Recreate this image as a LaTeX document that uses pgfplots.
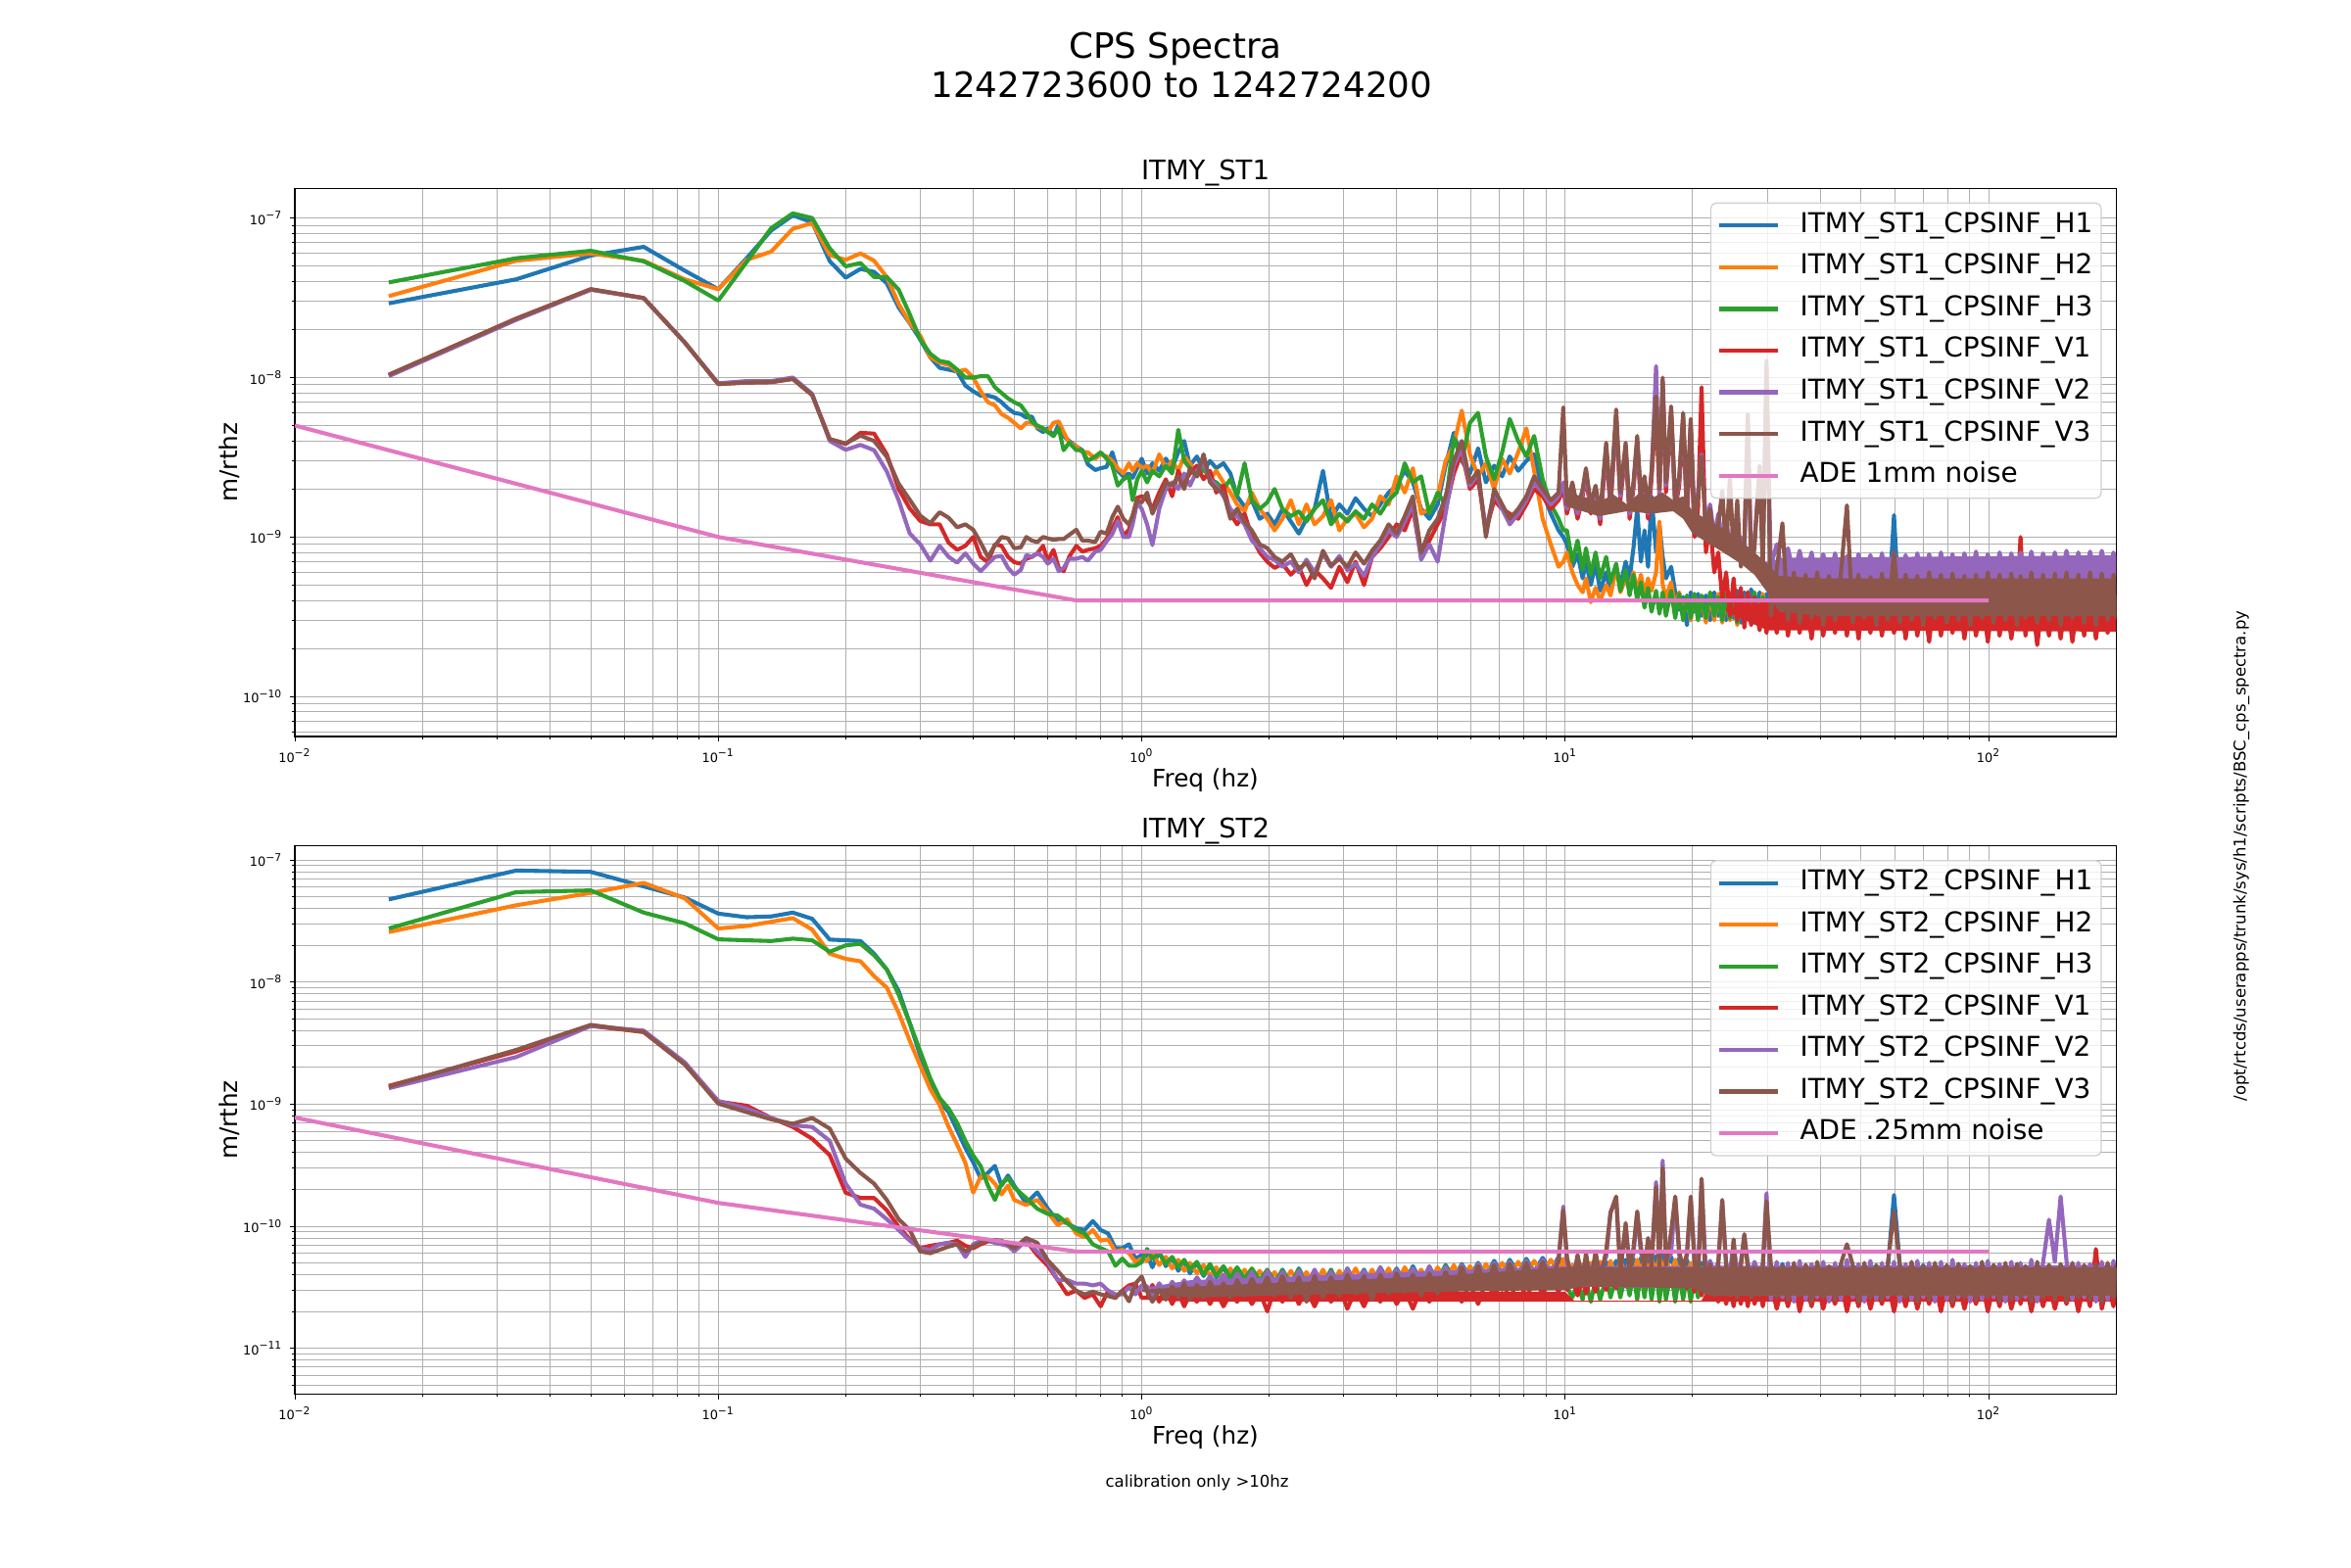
\documentclass[border=0pt]{standalone}
\usepackage{fontspec}
\setmainfont{DejaVu Sans}
\usepackage{pgfplots}
\usepackage{pgfplotstable}
\pgfplotsset{compat=1.18}
\definecolor{C0}{HTML}{1F77B4}
\definecolor{C1}{HTML}{FF7F0E}
\definecolor{C2}{HTML}{2CA02C}
\definecolor{C3}{HTML}{D62728}
\definecolor{C4}{HTML}{9467BD}
\definecolor{C5}{HTML}{8C564B}
\definecolor{C6}{HTML}{E377C2}
\definecolor{gridgray}{HTML}{B0B0B0}
\definecolor{leggray}{HTML}{D0D0D0}

\pgfplotstableread{
f H1 H2 H3 V1 V2 V3
0.01667 2.92e-8 3.24e-8 3.95e-8 1.04e-8 1.02e-8 1.04e-8
0.03333 4.13e-8 5.4e-8 5.6e-8 2.34e-8 2.3e-8 2.34e-8
0.05 5.82e-8 6.0e-8 6.24e-8 3.58e-8 3.55e-8 3.58e-8
0.06667 6.6e-8 5.4e-8 5.35e-8 3.15e-8 3.15e-8 3.15e-8
0.08333 4.68e-8 4.13e-8 4.03e-8 1.66e-8 1.66e-8 1.66e-8
0.1 3.58e-8 3.58e-8 3.04e-8 9.1e-9 9.2e-9 9.1e-9
0.11667 5.6e-8 5.47e-8 5.3e-8 9.3e-9 9.5e-9 9.3e-9
0.13333 8.36e-8 6.16e-8 8.64e-8 9.36e-9 9.5e-9 9.36e-9
0.15 1.04e-7 8.57e-8 1.07e-7 9.8e-9 1.0e-8 9.8e-9
0.16667 9.4e-8 9.3e-8 1.0e-7 7.76e-9 7.9e-9 7.76e-9
0.18333 5.37e-8 5.87e-8 6.46e-8 4.11e-9 4.0e-9 4.11e-9
0.2 4.23e-8 5.47e-8 4.98e-8 3.83e-9 3.52e-9 3.86e-9
0.21667 4.8e-8 6.0e-8 5.22e-8 4.5e-9 3.78e-9 4.32e-9
0.23333 4.6e-8 5.4e-8 4.27e-8 4.45e-9 3.5e-9 4.0e-9
0.25 3.9e-8 4.27e-8 4.27e-8 3.3e-9 2.58e-9 3.18e-9
0.26667 2.75e-8 2.9e-8 3.56e-8 2.0e-9 1.7e-9 2.16e-9
0.28333 2.19e-8 2.2e-8 2.49e-8 1.51e-9 1.05e-9 1.71e-9
0.3 1.73e-8 1.83e-8 1.73e-8 1.26e-9 9.0e-10 1.36e-9
0.31667 1.34e-8 1.34e-8 1.41e-8 1.2e-9 7.1e-10 1.22e-9
0.33333 1.15e-8 1.24e-8 1.27e-8 1.2e-9 8.8e-10 1.43e-9
0.35 1.12e-8 1.2e-8 1.24e-8 9.2e-10 7.5e-10 1.32e-9
0.36667 1.09e-8 1.09e-8 1.12e-8 8.3e-10 6.9e-10 1.15e-9
0.38333 8.9e-9 1.12e-8 1.0e-8 8.8e-10 7.9e-10 1.2e-9
0.4 8.2e-9 1.0e-8 1.0e-8 1.0e-9 6.8e-10 1.11e-9
0.41667 7.7e-9 8.2e-9 1.02e-8 7.5e-10 6.1e-10 9.2e-10
0.43333 7.7e-9 7.0e-9 1.02e-8 6.95e-10 6.8e-10 7.5e-10
0.45 7.5e-9 6.7e-9 8.7e-9 9.0e-10 7.5e-10 8.8e-10
0.46667 7.0e-9 5.9e-9 8.0e-9 8.8e-10 7.6e-10 1.0e-9
0.48333 6.4e-9 5.6e-9 7.4e-9 7.5e-10 6.4e-10 9.8e-10
0.5 6.0e-9 5.2e-9 7.0e-9 6.95e-10 5.8e-10 8.5e-10
0.518 5.9e-9 4.8e-9 6.7e-9 6.8e-10 6.2e-10 8.6e-10
0.534 5.6e-9 5.2e-9 6.0e-9 7.3e-10 7.7e-10 1.0e-9
0.55 5.7e-9 5.2e-9 5.3e-9 7.5e-10 7.5e-10 9.5e-10
0.567 4.8e-9 4.9e-9 5.0e-9 7.9e-10 7.9e-10 9.3e-10
0.585 4.55e-9 4.8e-9 4.8e-9 8.8e-10 7.5e-10 1.0e-9
0.6 4.8e-9 4.55e-9 4.55e-9 7.1e-10 6.8e-10 9.8e-10
0.619 4.3e-9 5.2e-9 4.3e-9 8.3e-10 7.3e-10 9.6e-10
0.637 5.1e-9 5.3e-9 4.8e-9 6.4e-10 6.1e-10 9.7e-10
0.654 4.3e-9 4.55e-9 3.5e-9 6.1e-10 6.4e-10 9.7e-10
0.674 4.0e-9 3.9e-9 3.9e-9 7.5e-10 7.3e-10 1.03e-9
0.701 3.7e-9 3.7e-9 3.5e-9 8.8e-10 7.3e-10 1.11e-9
0.724 3.5e-9 3.4e-9 3.5e-9 8.1e-10 7.5e-10 9.5e-10
0.746 2.86e-9 3.4e-9 3.0e-9 8.3e-10 7.1e-10 9.5e-10
0.777 2.63e-9 3.1e-9 3.2e-9 8.5e-10 8.1e-10 9.3e-10
0.8 2.7e-9 3.3e-9 3.4e-9 8.8e-10 8.3e-10 1.08e-9
0.826 2.75e-9 3.2e-9 3.1e-9 9.7e-10 9.4e-10 1.05e-9
0.852 3.4e-9 3.0e-9 2.8e-9 1.13e-9 1.04e-9 1.33e-9
0.878 2.6e-9 2.7e-9 2.1e-9 1.33e-9 1.26e-9 1.55e-9
0.905 2.4e-9 2.5e-9 2.3e-9 1.02e-9 1.0e-9 1.3e-9
0.933 2.5e-9 2.9e-9 2.4e-9 1.11e-9 1.0e-9 1.2e-9
0.952 2.35e-9 2.6e-9 1.7e-9 1.36e-9 1.2e-9 1.36e-9
0.976 2.7e-9 2.9e-9 2.3e-9 1.76e-9 1.65e-9 1.71e-9
1.0 3.1e-9 2.7e-9 2.6e-9 1.8e-9 1.5e-9 1.65e-9
1.03 2.5e-9 2.8e-9 2.2e-9 1.7e-9 1.2e-9 1.9e-9
1.06 2.9e-9 2.5e-9 2.6e-9 1.5e-9 8.9e-10 1.4e-9
1.1 2.6e-9 3.3e-9 2.4e-9 1.9e-9 1.5e-9 1.75e-9
1.14 3.1e-9 2.7e-9 2.8e-9 2.3e-9 2.0e-9 2.2e-9
1.18 2.7e-9 3.0e-9 2.5e-9 1.8e-9 2.2e-9 2.1e-9
1.22 3.4e-9 2.6e-9 4.7e-9 2.6e-9 2.0e-9 2.4e-9
1.26 4.0e-9 3.2e-9 3.0e-9 2.2e-9 2.5e-9 2.0e-9
1.3 2.8e-9 2.9e-9 2.7e-9 2.5e-9 2.1e-9 2.7e-9
1.35 3.2e-9 2.5e-9 2.4e-9 2.8e-9 2.6e-9 2.4e-9
1.4 2.6e-9 2.8e-9 2.7e-9 2.3e-9 2.9e-9 3.3e-9
1.45 3.0e-9 2.3e-9 2.3e-9 2.6e-9 2.3e-9 2.2e-9
1.5 2.7e-9 2.6e-9 2.2e-9 1.9e-9 2.1e-9 2.0e-9
1.56 2.9e-9 2.2e-9 2.0e-9 2.1e-9 1.8e-9 1.9e-9
1.62 2.5e-9 1.9e-9 2.3e-9 1.4e-9 1.5e-9 1.3e-9
1.68 1.8e-9 1.6e-9 1.8e-9 1.2e-9 1.35e-9 1.5e-9
1.75 1.55e-9 1.45e-9 2.9e-9 1.4e-9 1.2e-9 1.25e-9
1.82 1.7e-9 1.9e-9 1.7e-9 1.0e-9 9.5e-10 1.1e-9
1.9 1.3e-9 1.5e-9 1.5e-9 8.0e-10 8.5e-10 9.0e-10
1.98 1.4e-9 1.3e-9 1.65e-9 7.0e-10 7.5e-10 8.5e-10
2.06 1.2e-9 1.1e-9 2.0e-9 6.4e-10 7.2e-10 7.5e-10
2.15 1.5e-9 1.3e-9 1.5e-9 6.8e-10 6.5e-10 7.0e-10
2.25 1.25e-9 1.7e-9 1.35e-9 5.8e-10 7.0e-10 7.8e-10
2.35 1.05e-9 1.2e-9 1.45e-9 6.5e-10 6.0e-10 6.3e-10
2.45 1.3e-9 1.6e-9 1.25e-9 5.0e-10 7.2e-10 6.9e-10
2.56 1.5e-9 1.2e-9 1.5e-9 6.2e-10 6.0e-10 5.5e-10
2.68 2.6e-9 1.35e-9 1.7e-9 5.5e-10 7.8e-10 8.2e-10
2.8 1.3e-9 1.7e-9 1.2e-9 4.8e-10 6.5e-10 6.6e-10
2.93 1.6e-9 1.1e-9 1.4e-9 6.5e-10 7.6e-10 7.3e-10
3.06 1.4e-9 1.3e-9 1.25e-9 5.2e-10 6.2e-10 6.5e-10
3.2 1.75e-9 1.4e-9 1.45e-9 7.0e-10 6.8e-10 8.0e-10
3.35 1.5e-9 1.15e-9 1.3e-9 5.0e-10 5.7e-10 6.8e-10
3.5 1.35e-9 1.3e-9 1.6e-9 7.5e-10 7.5e-10 8.2e-10
3.66 1.6e-9 1.8e-9 1.4e-9 8.5e-10 9.0e-10 9.5e-10
3.83 1.9e-9 1.6e-9 1.7e-9 1.0e-9 1.1e-9 1.2e-9
4.0 2.1e-9 2.4e-9 1.9e-9 1.2e-9 1.0e-9 1.05e-9
4.18 2.6e-9 1.9e-9 2.9e-9 1.1e-9 1.25e-9 1.35e-9
4.37 2.2e-9 2.7e-9 2.2e-9 1.5e-9 1.6e-9 1.8e-9
4.57 1.5e-9 1.4e-9 2.4e-9 7.5e-10 7.2e-10 8.0e-10
4.78 1.3e-9 1.5e-9 1.4e-9 9.5e-10 9.0e-10 1.1e-9
5.0 1.6e-9 1.8e-9 1.9e-9 1.2e-9 7.0e-10 1.3e-9
5.22 2.8e-9 3.0e-9 1.6e-9 1.5e-9 1.4e-9 1.8e-9
5.46 4.5e-9 3.8e-9 4.2e-9 2.5e-9 2.8e-9 3.0e-9
5.7 3.0e-9 6.2e-9 3.0e-9 3.4e-9 3.6e-9 4.0e-9
5.96 2.5e-9 3.3e-9 5.2e-9 2.0e-9 2.1e-9 2.2e-9
6.23 3.6e-9 2.4e-9 6.0e-9 2.3e-9 2.5e-9 2.6e-9
6.5 2.2e-9 2.9e-9 3.2e-9 1.1e-9 1.1e-9 1.0e-9
6.8 2.8e-9 2.0e-9 2.3e-9 1.7e-9 1.9e-9 2.0e-9
7.1 2.4e-9 3.1e-9 3.4e-9 1.5e-9 1.5e-9 1.6e-9
7.4 3.2e-9 2.5e-9 5.5e-9 1.4e-9 1.2e-9 1.3e-9
7.75 2.6e-9 3.4e-9 4.0e-9 1.3e-9 1.4e-9 1.5e-9
8.1 3.0e-9 4.8e-9 3.2e-9 1.6e-9 1.7e-9 1.8e-9
8.45 3.3e-9 2.6e-9 4.3e-9 2.0e-9 2.2e-9 2.4e-9
8.85 1.9e-9 1.3e-9 2.3e-9 1.8e-9 1.9e-9 2.0e-9
9.25 1.4e-9 9.0e-10 1.6e-9 1.5e-9 1.6e-9 1.7e-9
9.65 1.1e-9 6.5e-10 1.3e-9 1.7e-9 1.8e-9 1.9e-9
9.9 1.0e-9 7.0e-10 1.1e-9 2.0e-9 2.2e-9 6.5e-9
10.1 9.0e-10 8.0e-10 1.1e-9 1.4e-9 1.5e-9 1.6e-9
10.4 6.5e-10 6.0e-10 7.0e-10 1.9e-9 2.0e-9 2.2e-9
10.7 7.8e-10 5.0e-10 9.5e-10 1.3e-9 1.4e-9 1.5e-9
11.0 5.5e-10 4.5e-10 6.2e-10 1.8e-9 1.9e-9 2.0e-9
11.2 7.0e-10 5.5e-10 8.5e-10 2.4e-9 2.5e-9 2.7e-9
11.5 5.0e-10 3.9e-10 5.8e-10 1.4e-9 1.5e-9 1.6e-9
11.8 6.8e-10 4.8e-10 8.0e-10 1.9e-9 2.0e-9 2.1e-9
12.1 4.6e-10 4.0e-10 5.5e-10 1.2e-9 1.3e-9 1.4e-9
12.5 6.0e-10 5.0e-10 7.5e-10 3.4e-9 3.6e-9 3.9e-9
12.8 4.4e-10 4.3e-10 5.2e-10 1.5e-9 1.6e-9 1.7e-9
13.2 6.5e-10 6.5e-10 6.8e-10 5.5e-9 5.8e-9 6.3e-9
13.5 5.0e-10 4.5e-10 4.6e-10 1.7e-9 1.8e-9 1.9e-9
13.9 7.0e-10 5.5e-10 6.2e-10 3.4e-9 3.6e-9 3.9e-9
14.2 5.5e-10 4.8e-10 4.3e-10 1.3e-9 1.4e-9 1.5e-9
14.5 8.5e-10 6.0e-10 5.8e-10 2.0e-9 2.1e-9 2.2e-9
14.8 1.5e-9 4.6e-10 4.0e-10 3.8e-9 4.0e-9 4.3e-9
15.1 7.0e-10 5.8e-10 5.2e-10 1.6e-9 1.7e-9 1.8e-9
15.4 1.1e-9 4.4e-10 3.6e-10 2.1e-9 2.3e-9 2.4e-9
15.7 6.5e-10 5.5e-10 4.8e-10 1.3e-9 1.4e-9 1.5e-9
16.0 1.8e-9 4.6e-10 3.4e-10 2.3e-9 2.5e-9 2.6e-9
16.4 8.0e-10 6.0e-10 4.6e-10 6.8e-9 1.18e-8 7.6e-9
16.7 1.2e-9 1.25e-9 3.3e-10 1.8e-9 1.9e-9 2.0e-9
17.0 7.5e-10 5.0e-10 4.5e-10 9.0e-9 9.5e-9 1.0e-8
17.3 5.5e-10 4.2e-10 3.2e-10 1.9e-9 2.1e-9 2.2e-9
17.8 6.5e-10 5.2e-10 4.6e-10 5.8e-9 6.2e-9 6.6e-9
18.2 4.5e-10 3.6e-10 3.1e-10 1.5e-9 1.6e-9 1.7e-9
18.6 3.5e-10 4.5e-10 4.4e-10 2.1e-9 2.3e-9 2.4e-9
19.0 4.2e-10 3.2e-10 3.0e-10 5.2e-9 5.7e-9 6.0e-9
19.4 2.8e-10 4.2e-10 4.3e-10 1.3e-9 1.5e-9 1.6e-9
19.8 4.5e-10 3.0e-10 3.1e-10 4.8e-9 5.2e-9 5.5e-9
20.2 3.4e-10 4.4e-10 4.4e-10 1.0e-9 1.3e-9 1.2e-9
20.6 4.4e-10 3.1e-10 3.0e-10 1.5e-9 1.9e-9 1.8e-9
21.0 3.2e-10 4.2e-10 4.3e-10 8.7e-9 3.3e-9 3.2e-9
21.5 4.3e-10 2.9e-10 3.1e-10 8.0e-10 1.2e-9 1.1e-9
22.0 3.0e-10 4.3e-10 4.5e-10 1.2e-9 1.6e-9 1.5e-9
22.5 4.5e-10 3.0e-10 3.2e-10 6.0e-10 1.0e-9 9.0e-10
23.0 3.2e-10 4.4e-10 4.2e-10 8.0e-10 1.4e-9 1.2e-9
23.5 4.6e-10 2.9e-10 3.0e-10 4.0e-10 9.5e-10 1.95e-9
24.0 3.0e-10 4.2e-10 4.4e-10 6.0e-10 1.3e-9 8.0e-10
24.5 4.4e-10 3.0e-10 3.1e-10 3.2e-10 8.5e-10 2.4e-9
25.0 3.1e-10 4.4e-10 4.2e-10 5.5e-10 1.2e-9 7.5e-10
25.5 4.6e-10 2.8e-10 2.9e-10 3.0e-10 8.0e-10 1.7e-9
26.0 2.9e-10 4.3e-10 4.4e-10 4.8e-10 1.0e-9 6.5e-10
26.5 4.5e-10 3.0e-10 3.1e-10 2.7e-10 7.5e-10 9.5e-10
27.0 3.2e-10 4.5e-10 4.3e-10 4.5e-10 5.6e-9 5.9e-9
27.5 4.7e-10 2.9e-10 3.0e-10 2.8e-10 7.2e-10 6.2e-10
28.0 3.0e-10 4.2e-10 4.5e-10 4.2e-10 9.5e-10 8.5e-10
28.8 4.5e-10 3.0e-10 3.1e-10 2.6e-10 2.7e-9 2.8e-9
29.3 3.1e-10 4.4e-10 4.2e-10 4.0e-10 7.5e-10 6.0e-10
29.9 4.4e-10 2.9e-10 3.0e-10 2.5e-10 1.2e-8 1.27e-8
30.6 3.0e-10 4.4e-10 3.1e-10 4.2e-10 6.5e-10 3.2e-10
31.6 4.6e-10 2.9e-10 4.5e-10 2.5e-10 9.0e-10 6.2e-10
32.6 2.9e-10 4.3e-10 3.0e-10 4.4e-10 6.0e-10 1.22e-9
33.6 4.5e-10 3.0e-10 4.4e-10 2.4e-10 8.5e-10 3.0e-10
34.7 3.1e-10 4.5e-10 2.9e-10 4.3e-10 5.8e-10 6.0e-10
35.8 4.4e-10 2.9e-10 4.6e-10 2.5e-10 8.2e-10 2.9e-10
37.0 2.9e-10 4.4e-10 3.0e-10 4.2e-10 5.5e-10 5.8e-10
38.2 4.6e-10 3.0e-10 4.4e-10 2.3e-10 8.0e-10 3.1e-10
39.4 3.0e-10 4.6e-10 3.1e-10 4.4e-10 5.4e-10 6.0e-10
40.7 4.5e-10 2.8e-10 4.5e-10 2.4e-10 7.8e-10 2.8e-10
42.0 2.9e-10 4.3e-10 2.9e-10 4.1e-10 5.2e-10 5.7e-10
43.4 4.4e-10 3.0e-10 4.6e-10 2.5e-10 7.9e-10 3.0e-10
44.8 3.0e-10 4.5e-10 3.0e-10 4.3e-10 5.3e-10 5.9e-10
46.3 4.6e-10 2.9e-10 4.4e-10 2.4e-10 7.6e-10 1.58e-9
47.8 2.9e-10 4.4e-10 3.1e-10 4.5e-10 5.1e-10 2.9e-10
49.3 4.5e-10 3.0e-10 4.5e-10 2.3e-10 7.8e-10 5.8e-10
50.9 3.0e-10 4.6e-10 2.9e-10 4.2e-10 5.2e-10 3.1e-10
52.6 4.4e-10 2.9e-10 4.6e-10 2.5e-10 7.7e-10 5.6e-10
54.3 2.9e-10 4.4e-10 3.0e-10 4.4e-10 5.0e-10 2.8e-10
56.0 4.6e-10 3.0e-10 4.4e-10 2.4e-10 7.9e-10 5.9e-10
57.8 3.0e-10 4.5e-10 3.1e-10 4.3e-10 5.2e-10 3.0e-10
59.8 1.37e-9 3.0e-10 4.5e-10 2.5e-10 8.0e-10 8.0e-10
61.7 3.0e-10 4.4e-10 2.9e-10 4.2e-10 5.1e-10 2.9e-10
63.7 4.5e-10 2.9e-10 4.5e-10 2.3e-10 7.7e-10 5.8e-10
65.8 2.9e-10 4.6e-10 3.0e-10 4.4e-10 5.3e-10 3.0e-10
67.9 4.6e-10 3.0e-10 4.4e-10 2.4e-10 7.9e-10 5.7e-10
70.1 3.0e-10 4.4e-10 3.1e-10 4.3e-10 5.0e-10 2.8e-10
72.4 4.4e-10 2.9e-10 4.6e-10 2.2e-10 7.8e-10 6.0e-10
74.7 2.9e-10 4.5e-10 2.9e-10 4.5e-10 5.2e-10 3.1e-10
77.2 4.5e-10 3.0e-10 4.5e-10 2.4e-10 8.0e-10 5.8e-10
79.7 3.0e-10 4.6e-10 3.0e-10 4.2e-10 5.3e-10 2.9e-10
82.2 4.6e-10 2.9e-10 4.4e-10 2.5e-10 7.8e-10 5.9e-10
84.9 2.9e-10 4.4e-10 3.1e-10 4.4e-10 5.1e-10 3.0e-10
87.7 4.5e-10 3.0e-10 4.6e-10 2.3e-10 7.9e-10 5.7e-10
90.5 3.0e-10 4.5e-10 2.9e-10 4.3e-10 5.2e-10 2.8e-10
93.4 4.4e-10 2.9e-10 4.5e-10 2.4e-10 8.1e-10 5.8e-10
96.5 2.9e-10 4.6e-10 3.0e-10 4.2e-10 5.3e-10 3.1e-10
99.6 4.6e-10 3.0e-10 4.4e-10 2.2e-10 7.8e-10 6.0e-10
102.8 3.0e-10 4.4e-10 3.1e-10 4.5e-10 5.2e-10 2.9e-10
106.2 4.5e-10 2.9e-10 4.6e-10 2.4e-10 8.0e-10 5.8e-10
109.6 2.9e-10 4.5e-10 2.9e-10 4.3e-10 5.4e-10 3.0e-10
113.2 4.6e-10 3.0e-10 4.5e-10 2.3e-10 7.9e-10 5.9e-10
116.8 3.0e-10 4.6e-10 3.0e-10 4.2e-10 5.3e-10 2.8e-10
119.0 4.4e-10 2.9e-10 4.4e-10 1.0e-9 8.0e-10 5.7e-10
122.2 2.9e-10 4.4e-10 3.1e-10 2.4e-10 5.2e-10 3.1e-10
126.2 4.5e-10 3.0e-10 4.6e-10 4.4e-10 8.1e-10 6.0e-10
130.3 3.0e-10 4.5e-10 2.9e-10 2.1e-10 5.4e-10 2.9e-10
134.5 4.6e-10 2.9e-10 4.5e-10 4.3e-10 7.9e-10 5.8e-10
138.9 2.9e-10 4.6e-10 3.0e-10 2.4e-10 5.3e-10 3.0e-10
143.4 4.4e-10 3.0e-10 4.4e-10 4.2e-10 8.0e-10 5.9e-10
148.0 3.0e-10 4.4e-10 3.1e-10 2.3e-10 5.5e-10 2.8e-10
152.8 4.5e-10 2.9e-10 4.6e-10 4.4e-10 8.2e-10 6.0e-10
157.8 2.9e-10 4.5e-10 2.9e-10 2.2e-10 5.4e-10 3.1e-10
162.9 4.6e-10 3.0e-10 4.5e-10 4.3e-10 8.0e-10 5.8e-10
168.2 3.0e-10 4.6e-10 3.0e-10 2.4e-10 5.6e-10 2.9e-10
173.7 4.4e-10 2.9e-10 4.4e-10 4.5e-10 8.1e-10 6.0e-10
179.3 2.9e-10 4.4e-10 3.1e-10 2.3e-10 5.5e-10 2.8e-10
185.1 4.5e-10 3.0e-10 4.6e-10 4.2e-10 8.2e-10 5.9e-10
191.1 3.0e-10 4.5e-10 2.9e-10 2.5e-10 5.6e-10 3.0e-10
197.3 4.6e-10 2.9e-10 4.5e-10 4.3e-10 8.0e-10 5.8e-10
200.0 3.0e-10 4.4e-10 3.0e-10 2.6e-10 5.7e-10 3.1e-10
}\toptab

\pgfplotstableread{
f H1 H2 H3 V1 V2 V3
0.01667 4.76e-8 2.57e-8 2.75e-8 1.41e-9 1.35e-9 1.39e-9
0.03333 8.2e-8 4.26e-8 5.46e-8 2.7e-9 2.43e-9 2.78e-9
0.05 8.0e-8 5.38e-8 5.64e-8 4.37e-9 4.37e-9 4.46e-9
0.06667 6.08e-8 6.5e-8 3.71e-8 3.9e-9 4.0e-9 3.9e-9
0.08333 4.93e-8 4.86e-8 3.03e-8 2.12e-9 2.2e-9 2.12e-9
0.1 3.64e-8 2.75e-8 2.24e-8 1.05e-9 1.06e-9 1.01e-9
0.11667 3.4e-8 2.88e-8 2.2e-8 9.7e-10 9.2e-10 8.6e-10
0.13333 3.45e-8 3.12e-8 2.17e-8 7.7e-10 7.7e-10 7.5e-10
0.15 3.71e-8 3.34e-8 2.27e-8 6.5e-10 6.7e-10 6.9e-10
0.16667 3.3e-8 2.69e-8 2.2e-8 5.2e-10 6.5e-10 7.7e-10
0.18333 2.23e-8 1.71e-8 1.77e-8 3.82e-10 5.0e-10 6.3e-10
0.2 2.2e-8 1.55e-8 2.0e-8 1.88e-10 2.23e-10 3.57e-10
0.21667 2.17e-8 1.48e-8 2.06e-8 1.7e-10 1.5e-10 2.73e-10
0.23333 1.71e-8 1.12e-8 1.66e-8 1.7e-10 1.39e-10 2.23e-10
0.25 1.27e-8 9.0e-9 1.27e-8 1.35e-10 1.14e-10 1.64e-10
0.26667 8.45e-9 5.6e-9 7.9e-9 9.9e-11 9.3e-11 1.14e-10
0.28333 4.6e-9 3.3e-9 4.6e-9 7.8e-11 7.6e-11 9.3e-11
0.3 2.5e-9 2.06e-9 2.7e-9 6.6e-11 6.6e-11 6.2e-11
0.31667 1.47e-9 1.33e-9 1.63e-9 6.9e-11 6.4e-11 6.0e-11
0.33333 1.05e-9 9.8e-10 1.12e-9 7.1e-11 7.1e-11 6.4e-11
0.35 8.6e-10 6.5e-10 9.2e-10 7.3e-11 7.3e-11 6.8e-11
0.36667 6.1e-10 4.65e-10 7.0e-10 7.6e-11 7.1e-11 7.1e-11
0.38333 4.37e-10 3.3e-10 5.0e-10 6.9e-11 5.6e-11 6.2e-11
0.4 3.33e-10 1.88e-10 3.8e-10 6.6e-11 7.1e-11 6.8e-11
0.41667 2.46e-10 2.55e-10 3.1e-10 7.1e-11 7.6e-11 7.3e-11
0.43333 2.73e-10 2.55e-10 2.15e-10 7.5e-11 7.6e-11 7.6e-11
0.45 3.12e-10 2.23e-10 1.64e-10 7.6e-11 7.3e-11 7.7e-11
0.46667 2.15e-10 1.82e-10 2.23e-10 7.3e-11 7.1e-11 7.6e-11
0.48333 2.6e-10 2.15e-10 2.47e-10 7.1e-11 6.9e-11 7.1e-11
0.5 2.15e-10 1.64e-10 2.08e-10 6.6e-11 6.2e-11 6.6e-11
0.53333 1.54e-10 1.49e-10 1.7e-10 7.6e-11 7.6e-11 8.0e-11
0.56667 1.89e-10 1.64e-10 1.39e-10 5.8e-11 6.2e-11 7.3e-11
0.6 1.39e-10 1.3e-10 1.26e-10 4.74e-11 5.07e-11 5.25e-11
0.63333 1.1e-10 1.02e-10 1.22e-10 3.62e-11 3.62e-11 4.3e-11
0.66667 1.06e-10 1.14e-10 1.06e-10 2.76e-11 3.62e-11 3.5e-11
0.7 9.6e-11 8.7e-11 9.3e-11 2.96e-11 3.38e-11 2.96e-11
0.73333 9.3e-11 8.1e-11 8.7e-11 2.58e-11 3.38e-11 2.76e-11
0.76667 1.1e-10 9.3e-11 7.1e-11 2.76e-11 3.27e-11 2.9e-11
0.8 9.3e-11 7.6e-11 6.6e-11 2.2e-11 3.38e-11 2.76e-11
0.83333 8.7e-11 7.8e-11 6.2e-11 2.96e-11 2.96e-11 2.67e-11
0.86667 6.6e-11 6.2e-11 4.74e-11 2.58e-11 2.76e-11 2.58e-11
0.9 6.6e-11 6.4e-11 5.42e-11 2.96e-11 2.76e-11 2.96e-11
0.93333 7.1e-11 6.0e-11 4.74e-11 3.27e-11 3.16e-11 2.42e-11
0.96667 5.4e-11 5.07e-11 4.74e-11 3.38e-11 2.76e-11 3.38e-11
1.0 5.8e-11 5.42e-11 5.07e-11 2.58e-11 3.27e-11 3.87e-11
1.03 5.8e-11 5.2e-11 6.5e-11 2.6e-11 3.2e-11 2.9e-11
1.06 4.6e-11 6.0e-11 5.4e-11 3.3e-11 2.7e-11 2.4e-11
1.1 6.2e-11 4.8e-11 6.0e-11 2.4e-11 3.4e-11 3.0e-11
1.14 4.7e-11 5.6e-11 4.9e-11 3.1e-11 2.8e-11 2.5e-11
1.18 5.5e-11 4.5e-11 5.6e-11 2.3e-11 3.5e-11 3.2e-11
1.22 4.3e-11 5.3e-11 4.6e-11 2.9e-11 3.0e-11 2.6e-11
1.26 5.2e-11 4.3e-11 5.3e-11 2.2e-11 3.6e-11 3.4e-11
1.3 4.1e-11 5.0e-11 4.4e-11 2.8e-11 3.1e-11 2.5e-11
1.35 5.0e-11 4.1e-11 5.1e-11 2.4e-11 3.8e-11 3.3e-11
1.4 3.9e-11 4.8e-11 4.0e-11 3.0e-11 3.2e-11 2.6e-11
1.45 4.8e-11 3.9e-11 4.9e-11 2.3e-11 3.9e-11 3.5e-11
1.5 3.8e-11 4.6e-11 3.9e-11 2.9e-11 3.3e-11 2.7e-11
1.56 4.6e-11 3.7e-11 4.7e-11 2.2e-11 4.0e-11 3.4e-11
1.62 3.6e-11 4.5e-11 3.8e-11 2.8e-11 3.2e-11 2.6e-11
1.68 4.5e-11 3.6e-11 4.6e-11 2.4e-11 4.1e-11 3.6e-11
1.75 3.5e-11 4.4e-11 3.7e-11 3.0e-11 3.3e-11 2.7e-11
1.82 4.4e-11 3.5e-11 4.5e-11 2.3e-11 4.2e-11 3.7e-11
1.9 3.4e-11 4.3e-11 3.6e-11 2.9e-11 3.1e-11 2.8e-11
1.98 4.3e-11 3.4e-11 4.4e-11 2.0e-11 4.3e-11 3.8e-11
2.06 3.4e-11 4.2e-11 3.5e-11 3.1e-11 3.2e-11 2.7e-11
2.15 4.4e-11 3.3e-11 4.3e-11 2.4e-11 4.2e-11 3.9e-11
2.25 3.3e-11 4.3e-11 3.4e-11 3.2e-11 3.0e-11 2.6e-11
2.35 4.5e-11 3.4e-11 4.4e-11 2.3e-11 4.3e-11 3.8e-11
2.45 3.4e-11 4.2e-11 3.3e-11 3.0e-11 3.1e-11 2.4e-11
2.56 4.3e-11 3.3e-11 4.2e-11 2.2e-11 4.4e-11 3.9e-11
2.68 3.3e-11 4.4e-11 3.4e-11 3.1e-11 3.2e-11 2.6e-11
2.8 4.4e-11 3.2e-11 4.3e-11 2.4e-11 4.2e-11 3.8e-11
2.93 3.2e-11 4.3e-11 3.3e-11 3.2e-11 3.0e-11 2.7e-11
3.06 4.5e-11 3.4e-11 4.4e-11 2.1e-11 4.5e-11 4.0e-11
3.2 3.4e-11 4.5e-11 3.3e-11 3.0e-11 3.1e-11 2.8e-11
3.35 4.4e-11 3.3e-11 4.3e-11 2.2e-11 4.3e-11 3.9e-11
3.5 3.3e-11 4.4e-11 3.4e-11 3.1e-11 3.2e-11 2.5e-11
3.66 4.6e-11 3.4e-11 4.5e-11 2.4e-11 4.6e-11 4.0e-11
3.83 3.5e-11 4.5e-11 3.3e-11 3.2e-11 3.1e-11 2.8e-11
4.0 4.5e-11 3.3e-11 4.4e-11 2.3e-11 4.4e-11 4.1e-11
4.18 3.4e-11 4.6e-11 3.5e-11 3.0e-11 3.2e-11 2.9e-11
4.37 4.7e-11 3.5e-11 4.5e-11 2.1e-11 4.5e-11 4.0e-11
4.57 3.5e-11 4.4e-11 3.4e-11 3.1e-11 3.3e-11 2.7e-11
4.78 4.6e-11 3.4e-11 4.6e-11 2.4e-11 4.7e-11 4.1e-11
5.0 3.6e-11 4.6e-11 3.5e-11 3.3e-11 3.2e-11 2.8e-11
5.22 4.8e-11 3.6e-11 4.7e-11 2.5e-11 4.6e-11 4.2e-11
5.46 3.7e-11 4.8e-11 3.6e-11 3.2e-11 3.4e-11 3.0e-11
5.7 4.9e-11 3.5e-11 4.8e-11 2.4e-11 4.8e-11 4.6e-11
5.96 3.8e-11 4.7e-11 3.7e-11 3.4e-11 3.5e-11 3.1e-11
6.23 5.0e-11 3.7e-11 4.9e-11 2.3e-11 4.9e-11 4.7e-11
6.5 3.9e-11 4.9e-11 3.8e-11 3.5e-11 3.6e-11 3.2e-11
6.8 5.2e-11 3.8e-11 5.0e-11 2.7e-11 5.0e-11 4.8e-11
7.1 4.0e-11 5.0e-11 3.9e-11 3.6e-11 3.7e-11 3.0e-11
7.4 5.3e-11 3.9e-11 5.1e-11 2.5e-11 5.1e-11 4.9e-11
7.75 4.1e-11 5.1e-11 4.0e-11 3.7e-11 3.8e-11 3.4e-11
8.1 5.4e-11 4.0e-11 5.2e-11 2.6e-11 5.2e-11 5.0e-11
8.45 4.2e-11 5.2e-11 4.1e-11 3.6e-11 3.9e-11 3.2e-11
8.85 5.5e-11 4.1e-11 5.0e-11 2.8e-11 5.3e-11 5.1e-11
9.25 4.3e-11 5.3e-11 4.0e-11 3.7e-11 4.0e-11 3.6e-11
9.65 5.6e-11 4.2e-11 4.5e-11 2.9e-11 5.4e-11 5.2e-11
9.9 4.4e-11 5.4e-11 3.8e-11 3.8e-11 1.45e-10 1.35e-10
10.1 4.6e-11 3.6e-11 3.2e-11 3.0e-11 5.0e-11 5.6e-11
10.4 3.5e-11 4.8e-11 2.6e-11 3.8e-11 4.0e-11 3.4e-11
10.7 4.8e-11 3.4e-11 3.4e-11 2.7e-11 5.2e-11 5.8e-11
11.0 3.6e-11 4.9e-11 2.5e-11 3.7e-11 4.1e-11 3.6e-11
11.2 4.9e-11 3.5e-11 3.5e-11 2.8e-11 5.4e-11 6.0e-11
11.5 3.7e-11 5.0e-11 2.4e-11 3.8e-11 4.2e-11 3.5e-11
11.8 5.0e-11 3.6e-11 3.6e-11 2.9e-11 5.5e-11 6.2e-11
12.1 3.8e-11 5.1e-11 2.5e-11 3.9e-11 4.3e-11 3.7e-11
12.5 5.1e-11 3.7e-11 3.8e-11 3.0e-11 5.6e-11 6.3e-11
12.8 4.0e-11 5.2e-11 2.6e-11 4.0e-11 1.3e-10 1.28e-10
13.2 5.2e-11 3.8e-11 3.9e-11 3.1e-11 1.7e-10 1.75e-10
13.5 4.1e-11 5.3e-11 2.6e-11 4.1e-11 4.6e-11 4.0e-11
13.9 5.3e-11 3.9e-11 4.0e-11 3.2e-11 1.0e-10 1.06e-10
14.2 4.2e-11 5.2e-11 2.7e-11 4.2e-11 4.7e-11 4.2e-11
14.5 5.4e-11 4.0e-11 4.1e-11 3.3e-11 5.9e-11 6.6e-11
14.8 4.3e-11 5.3e-11 2.5e-11 4.3e-11 1.3e-10 1.32e-10
15.1 5.5e-11 4.1e-11 4.2e-11 3.4e-11 6.0e-11 6.8e-11
15.4 4.2e-11 5.4e-11 2.6e-11 4.4e-11 4.9e-11 4.5e-11
15.7 5.6e-11 4.0e-11 4.4e-11 3.5e-11 6.2e-11 8.0e-11
16.0 4.3e-11 5.5e-11 2.5e-11 4.5e-11 5.0e-11 4.6e-11
16.4 5.7e-11 4.1e-11 4.5e-11 3.6e-11 2.3e-10 2.1e-10
16.7 4.4e-11 5.6e-11 2.4e-11 4.6e-11 5.2e-11 4.7e-11
17.0 5.8e-11 4.2e-11 4.3e-11 3.7e-11 3.45e-10 3.0e-10
17.3 4.5e-11 5.5e-11 2.5e-11 4.4e-11 5.1e-11 4.8e-11
17.8 5.6e-11 4.0e-11 4.2e-11 3.5e-11 6.0e-11 9.0e-11
18.2 4.3e-11 5.3e-11 2.4e-11 4.3e-11 1.7e-10 1.75e-10
18.6 5.5e-11 3.9e-11 4.0e-11 3.3e-11 5.8e-11 6.2e-11
19.0 4.2e-11 5.2e-11 2.5e-11 4.2e-11 4.8e-11 4.4e-11
19.4 5.3e-11 3.8e-11 3.9e-11 3.1e-11 5.7e-11 6.0e-11
19.8 4.1e-11 5.0e-11 2.4e-11 4.0e-11 1.7e-10 1.75e-10
20.2 5.1e-11 3.6e-11 3.8e-11 2.9e-11 5.5e-11 5.2e-11
20.6 3.9e-11 4.8e-11 2.6e-11 3.8e-11 4.5e-11 3.2e-11
21.0 5.0e-11 3.5e-11 4.6e-11 2.7e-11 2.4e-10 2.45e-10
21.5 3.6e-11 4.7e-11 3.2e-11 3.6e-11 4.3e-11 2.8e-11
22.0 4.9e-11 3.4e-11 4.7e-11 2.5e-11 5.2e-11 4.9e-11
22.5 3.5e-11 4.6e-11 3.1e-11 3.5e-11 4.2e-11 2.7e-11
23.0 4.8e-11 3.3e-11 4.8e-11 2.4e-11 5.1e-11 4.8e-11
23.5 3.4e-11 4.5e-11 3.0e-11 3.4e-11 1.6e-10 1.64e-10
24.0 4.7e-11 3.2e-11 4.6e-11 2.3e-11 5.0e-11 4.7e-11
24.5 3.4e-11 4.4e-11 3.1e-11 3.3e-11 4.1e-11 2.7e-11
25.0 4.8e-11 3.3e-11 4.7e-11 2.2e-11 7.5e-11 7.8e-11
25.5 3.3e-11 4.5e-11 3.0e-11 3.4e-11 4.0e-11 2.6e-11
26.0 4.6e-11 3.2e-11 4.6e-11 2.3e-11 5.1e-11 4.6e-11
26.5 3.4e-11 4.4e-11 3.1e-11 3.3e-11 8.4e-11 8.6e-11
27.0 4.7e-11 3.3e-11 4.5e-11 2.2e-11 5.0e-11 4.5e-11
27.5 3.3e-11 4.5e-11 3.0e-11 3.4e-11 4.1e-11 2.6e-11
28.0 4.6e-11 3.2e-11 4.6e-11 2.3e-11 5.1e-11 4.6e-11
28.8 3.4e-11 4.4e-11 3.1e-11 3.2e-11 4.0e-11 2.7e-11
29.3 4.7e-11 3.3e-11 4.5e-11 2.2e-11 5.0e-11 4.5e-11
29.9 3.3e-11 4.5e-11 3.0e-11 3.4e-11 1.86e-10 1.6e-10
30.6 4.7e-11 3.2e-11 4.6e-11 3.4e-11 2.5e-11 4.9e-11
31.6 3.3e-11 4.6e-11 3.1e-11 2.1e-11 5.1e-11 2.6e-11
32.6 4.9e-11 3.1e-11 4.4e-11 3.2e-11 2.6e-11 4.7e-11
33.6 3.2e-11 4.5e-11 3.3e-11 2.2e-11 5.0e-11 2.5e-11
34.7 4.6e-11 3.3e-11 4.7e-11 3.5e-11 2.4e-11 5.0e-11
35.8 3.4e-11 4.7e-11 3.0e-11 2.0e-11 5.2e-11 2.7e-11
37.0 4.8e-11 3.0e-11 4.5e-11 3.3e-11 2.5e-11 4.8e-11
38.2 3.1e-11 4.4e-11 3.2e-11 2.2e-11 4.9e-11 2.4e-11
39.4 4.7e-11 3.2e-11 4.8e-11 3.4e-11 2.6e-11 5.1e-11
40.7 3.3e-11 4.6e-11 3.1e-11 2.1e-11 5.1e-11 2.6e-11
42.0 4.5e-11 3.1e-11 4.6e-11 3.2e-11 2.4e-11 4.7e-11
43.4 3.2e-11 4.8e-11 3.3e-11 2.3e-11 5.0e-11 2.5e-11
44.8 4.9e-11 3.3e-11 4.4e-11 3.5e-11 2.5e-11 4.9e-11
46.3 3.4e-11 4.5e-11 3.0e-11 2.0e-11 5.3e-11 7.1e-11
47.8 4.6e-11 3.0e-11 4.7e-11 3.3e-11 2.6e-11 4.8e-11
49.3 3.1e-11 4.7e-11 3.2e-11 2.2e-11 4.9e-11 2.4e-11
50.9 4.8e-11 3.2e-11 4.5e-11 3.4e-11 2.4e-11 5.0e-11
52.6 3.3e-11 4.4e-11 3.1e-11 2.1e-11 5.2e-11 2.6e-11
54.3 4.7e-11 3.1e-11 4.8e-11 3.2e-11 2.5e-11 4.7e-11
56.0 3.2e-11 4.6e-11 3.3e-11 2.3e-11 5.0e-11 2.5e-11
57.8 4.5e-11 3.3e-11 4.6e-11 3.5e-11 2.6e-11 4.9e-11
59.8 1.8e-10 4.8e-11 3.0e-11 2.0e-11 5.1e-11 1.32e-10
61.7 4.9e-11 3.0e-11 4.4e-11 3.3e-11 2.4e-11 4.8e-11
63.7 3.4e-11 4.5e-11 3.2e-11 2.2e-11 4.9e-11 2.6e-11
65.8 4.6e-11 3.2e-11 4.7e-11 3.4e-11 2.5e-11 5.1e-11
67.9 3.1e-11 4.7e-11 3.1e-11 2.1e-11 5.2e-11 2.4e-11
70.1 4.8e-11 3.1e-11 4.5e-11 3.2e-11 2.6e-11 4.7e-11
72.4 3.3e-11 4.4e-11 3.3e-11 2.3e-11 5.0e-11 2.5e-11
74.7 4.7e-11 3.3e-11 4.8e-11 3.5e-11 2.4e-11 5.0e-11
77.2 3.2e-11 4.6e-11 3.0e-11 2.0e-11 5.1e-11 2.7e-11
79.7 4.5e-11 3.0e-11 4.6e-11 3.3e-11 2.5e-11 4.8e-11
82.2 3.4e-11 4.8e-11 3.2e-11 2.2e-11 5.3e-11 2.4e-11
84.9 4.9e-11 3.2e-11 4.4e-11 3.4e-11 2.6e-11 4.9e-11
87.7 3.1e-11 4.5e-11 3.1e-11 2.1e-11 4.9e-11 2.6e-11
90.5 4.6e-11 3.1e-11 4.7e-11 3.2e-11 2.4e-11 4.7e-11
93.4 3.3e-11 4.7e-11 3.3e-11 2.3e-11 5.0e-11 2.5e-11
96.5 4.8e-11 3.3e-11 4.5e-11 3.5e-11 2.5e-11 5.1e-11
99.6 3.2e-11 4.4e-11 3.0e-11 2.0e-11 5.2e-11 2.6e-11
102.8 4.7e-11 3.0e-11 4.8e-11 3.3e-11 2.6e-11 4.8e-11
106.2 3.4e-11 4.6e-11 3.2e-11 2.2e-11 4.9e-11 2.4e-11
109.6 4.5e-11 3.2e-11 4.6e-11 3.4e-11 2.4e-11 5.0e-11
113.2 3.1e-11 4.8e-11 3.1e-11 2.1e-11 5.1e-11 2.5e-11
116.8 4.9e-11 3.1e-11 4.4e-11 3.2e-11 2.5e-11 4.9e-11
119.0 3.3e-11 4.5e-11 3.3e-11 2.3e-11 5.0e-11 2.6e-11
122.2 4.6e-11 3.3e-11 4.7e-11 3.5e-11 2.6e-11 4.7e-11
126.2 3.2e-11 4.7e-11 3.0e-11 2.0e-11 5.3e-11 2.4e-11
130.3 4.8e-11 3.0e-11 4.5e-11 3.3e-11 2.4e-11 5.1e-11
134.5 3.4e-11 4.4e-11 3.2e-11 2.2e-11 5.0e-11 2.6e-11
138.9 4.7e-11 3.2e-11 4.8e-11 3.4e-11 1.13e-10 4.8e-11
143.4 3.1e-11 4.6e-11 3.1e-11 2.1e-11 5.1e-11 2.5e-11
148.0 4.5e-11 3.1e-11 4.6e-11 3.2e-11 1.75e-10 4.9e-11
152.8 3.3e-11 4.8e-11 3.3e-11 2.3e-11 5.2e-11 2.4e-11
157.8 4.9e-11 3.3e-11 4.4e-11 3.5e-11 2.5e-11 5.0e-11
162.9 3.2e-11 4.5e-11 3.0e-11 2.0e-11 5.0e-11 2.6e-11
168.2 4.6e-11 3.0e-11 4.7e-11 3.3e-11 2.6e-11 4.8e-11
173.7 3.4e-11 4.7e-11 3.2e-11 2.2e-11 4.9e-11 2.5e-11
179.3 4.8e-11 3.2e-11 4.5e-11 6.5e-11 2.4e-11 4.9e-11
185.1 3.1e-11 4.4e-11 3.1e-11 2.1e-11 5.1e-11 2.4e-11
191.1 4.7e-11 3.1e-11 4.8e-11 3.4e-11 2.5e-11 5.0e-11
197.3 3.3e-11 4.6e-11 3.3e-11 2.2e-11 5.2e-11 2.6e-11
200.0 4.6e-11 3.3e-11 4.6e-11 3.3e-11 2.6e-11 4.8e-11
}\bottab

\pgfplotstableread{
f a
0.01 5.0e-9
0.1 1.0e-9
0.7 4.0e-10
100 4.0e-10
}\topade

\pgfplotstableread{
f a
0.01 7.75e-10
0.1 1.55e-10
0.7 6.2e-11
100 6.2e-11
}\botade

\begin{document}
\begin{tikzpicture}
\path (0,0) rectangle (1117.44pt,744.96pt);

\node[font=\fontsize{16.6}{19}\selectfont, anchor=base] at (558.7pt,717.4pt) {CPS Spectra};
\node[font=\fontsize{16.6}{19}\selectfont, anchor=base] at (561.7pt,698.7pt) {1242723600 to 1242724200};

\begin{axis}[at={(140.15pt,394.8pt)}, anchor=south west,
    xmode=log, ymode=log,
    scale only axis, width=865.6pt, height=260.7pt,
    xmin=0.01, xmax=200, ymin=5.6e-11, ymax=1.54e-7,
    grid=both,
    major grid style={line width=0.4pt, draw=gridgray},
    minor grid style={line width=0.4pt, draw=gridgray},
    axis line style={line width=0.55pt, black},
    tick align=outside, tick pos=left,
    major tick length=2.4pt, minor tick length=1.4pt,
    tick style={line width=0.4pt, black},
    tick label style={font=\fontsize{6}{7}\selectfont},
    log number format basis/.code 2 args={\pgfmathtruncatemacro\myexp{#2}#1\textsuperscript{\ifnum\myexp<0 −\number-\myexp\else\myexp\fi}},
    label style={font=\fontsize{11.5}{13}\selectfont},
    every axis title/.style={font=\fontsize{12.8}{15}\selectfont, at={(0.5,1)}, anchor=base, yshift=3.8pt},
    title={ITMY\_ST1},
    xlabel={Freq (hz)}, ylabel={m/rthz},
    x label style={at={(axis description cs:0.5,-0.079)}, anchor=center},
    y label style={at={(axis description cs:-0.036,0.5)}, anchor=center},
    legend cell align=left,
    legend image code/.code={\draw[#1] (0pt,0pt) -- (28pt,0pt);},
    legend style={at={(0.9922,0.974)}, anchor=north east,
      font=\fontsize{13}{15}\selectfont,
      draw=leggray, line width=0.6pt, rounded corners=2.5pt,
      fill=white, fill opacity=0.8, text opacity=1, draw opacity=1,
      inner xsep=3pt, inner ysep=3.5pt, row sep=5.3pt,
      nodes={inner sep=1pt, text height=9.5pt, text depth=3pt},
      /tikz/every odd column/.append style={column sep=8.5pt}},
    every axis plot/.append style={line width=1.9pt, line join=round},
  ]
\addplot[C0] table[x=f, y=H1] {\toptab};
\addlegendentry{ITMY\_ST1\_CPSINF\_H1}
\addplot[C1] table[x=f, y=H2] {\toptab};
\addlegendentry{ITMY\_ST1\_CPSINF\_H2}
\addplot[C2] table[x=f, y=H3] {\toptab};
\addlegendentry{ITMY\_ST1\_CPSINF\_H3}
\addplot[fill=C3, draw=none, forget plot] coordinates {(24,3.6e-10) (30,3.9e-10) (200,4.0e-10) (200,2.55e-10) (30,2.6e-10) (24,3.4e-10)} -- cycle;
\addplot[C3] table[x=f, y=V1] {\toptab};
\addlegendentry{ITMY\_ST1\_CPSINF\_V1}
\addplot[fill=C4, draw=none, forget plot] coordinates {(27,6.6e-10) (33,7.4e-10) (60,7.5e-10) (120,7.6e-10) (200,7.7e-10) (200,5.4e-10) (33,5.3e-10) (27,6.3e-10)} -- cycle;
\addplot[C4] table[x=f, y=V2] {\toptab};
\addlegendentry{ITMY\_ST1\_CPSINF\_V2}
\addplot[fill=C5, draw=none, forget plot] coordinates {(10.1,1.9e-9) (11,1.8e-9) (12,1.65e-9) (13,1.85e-9) (14,1.6e-9) (15,1.9e-9) (16,1.75e-9) (17,1.9e-9) (18,1.7e-9) (19,1.8e-9) (20,1.45e-9) (21,1.35e-9) (22,1.25e-9) (24,1.1e-9) (26,9.5e-10) (28,8.0e-10) (30,6.8e-10) (32,5.7e-10) (40,5.5e-10) (200,5.5e-10) (200,3.2e-10) (40,3.2e-10) (32,3.4e-10) (30,4.5e-10) (28,5.8e-10) (26,6.8e-10) (24,7.8e-10) (22,9.0e-10) (20,1.05e-9) (19,1.3e-9) (18,1.45e-9) (16,1.4e-9) (14,1.45e-9) (12,1.35e-9) (11,1.45e-9) (10.1,1.55e-9)} -- cycle;
\addplot[C5] table[x=f, y=V3] {\toptab};
\addlegendentry{ITMY\_ST1\_CPSINF\_V3}
\addplot[C6] table[x=f, y=a] {\topade};
\addlegendentry{ADE 1mm noise}
\end{axis}

\begin{axis}[at={(140.15pt,82.2pt)}, anchor=south west,
    xmode=log, ymode=log,
    scale only axis, width=865.6pt, height=260.7pt,
    xmin=0.01, xmax=200, ymin=4.2e-12, ymax=1.31e-7,
    grid=both,
    major grid style={line width=0.4pt, draw=gridgray},
    minor grid style={line width=0.4pt, draw=gridgray},
    axis line style={line width=0.55pt, black},
    tick align=outside, tick pos=left,
    major tick length=2.4pt, minor tick length=1.4pt,
    tick style={line width=0.4pt, black},
    tick label style={font=\fontsize{6}{7}\selectfont},
    log number format basis/.code 2 args={\pgfmathtruncatemacro\myexp{#2}#1\textsuperscript{\ifnum\myexp<0 −\number-\myexp\else\myexp\fi}},
    label style={font=\fontsize{11.5}{13}\selectfont},
    every axis title/.style={font=\fontsize{12.8}{15}\selectfont, at={(0.5,1)}, anchor=base, yshift=3.8pt},
    title={ITMY\_ST2},
    xlabel={Freq (hz)}, ylabel={m/rthz},
    x label style={at={(axis description cs:0.5,-0.079)}, anchor=center},
    y label style={at={(axis description cs:-0.036,0.5)}, anchor=center},
    legend cell align=left,
    legend image code/.code={\draw[#1] (0pt,0pt) -- (28pt,0pt);},
    legend style={at={(0.9922,0.974)}, anchor=north east,
      font=\fontsize{13}{15}\selectfont,
      draw=leggray, line width=0.6pt, rounded corners=2.5pt,
      fill=white, fill opacity=0.8, text opacity=1, draw opacity=1,
      inner xsep=3pt, inner ysep=3.5pt, row sep=5.3pt,
      nodes={inner sep=1pt, text height=9.5pt, text depth=3pt},
      /tikz/every odd column/.append style={column sep=8.5pt}},
    every axis plot/.append style={line width=1.9pt, line join=round},
  ]
\addplot[C0] table[x=f, y=H1] {\bottab};
\addlegendentry{ITMY\_ST2\_CPSINF\_H1}
\addplot[C1] table[x=f, y=H2] {\bottab};
\addlegendentry{ITMY\_ST2\_CPSINF\_H2}
\addplot[C2] table[x=f, y=H3] {\bottab};
\addlegendentry{ITMY\_ST2\_CPSINF\_H3}
\addplot[fill=C3, draw=none, forget plot] coordinates {(1.0,2.6e-11) (1.3,2.9e-11) (10,2.9e-11) (10.5,2.45e-11) (21,2.45e-11) (21.5,2.9e-11) (200,2.9e-11) (200,2.4e-11) (1.3,2.4e-11) (1.0,2.5e-11)} -- cycle;
\addplot[C3] table[x=f, y=V1] {\bottab};
\addlegendentry{ITMY\_ST2\_CPSINF\_V1}
\addplot[fill=C4, draw=none, forget plot] coordinates {(1.0,3.1e-11) (1.3,3.6e-11) (5,4.3e-11) (10,4.7e-11) (200,4.8e-11) (200,2.8e-11) (10,3.2e-11) (1.3,3.1e-11) (1.0,3.0e-11)} -- cycle;
\addplot[C4] table[x=f, y=V2] {\bottab};
\addlegendentry{ITMY\_ST2\_CPSINF\_V2}
\addplot[fill=C5, draw=none, forget plot] coordinates {(1.0,3.0e-11) (1.3,3.2e-11) (5,3.9e-11) (10,4.6e-11) (200,4.6e-11) (200,2.7e-11) (22,2.7e-11) (20,3.1e-11) (11,3.2e-11) (10,3.0e-11) (5,2.9e-11) (1.3,2.6e-11) (1.0,2.9e-11)} -- cycle;
\addplot[C5] table[x=f, y=V3] {\bottab};
\addlegendentry{ITMY\_ST2\_CPSINF\_V3}
\addplot[C6] table[x=f, y=a] {\botade};
\addlegendentry{ADE .25mm noise}
\end{axis}

\node[font=\fontsize{7.7}{9}\selectfont, rotate=90, anchor=center] at (1065.3pt,338.0pt) {/opt/rtcds/userapps/trunk/sys/h1/scripts/BSC\_cps\_spectra.py};
\node[font=\fontsize{7.7}{9}\selectfont, anchor=center] at (569pt,40pt) {calibration only >10hz};
\end{tikzpicture}
\end{document}
